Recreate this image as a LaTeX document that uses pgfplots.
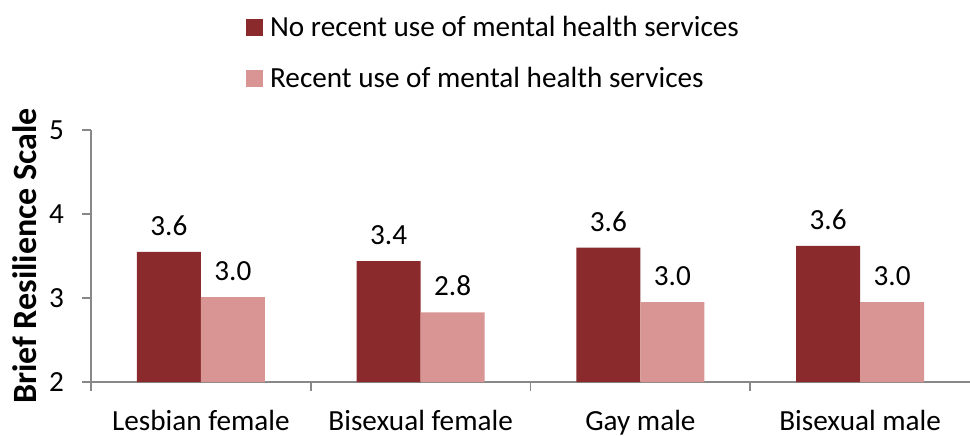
\documentclass[border=0pt]{standalone}
\usepackage{pgfplots}
\pgfplotsset{compat=1.18}
\usepackage{fontspec}
\setmainfont{Carlito}
\definecolor{darkred}{HTML}{8B2A2C}
\definecolor{lightred}{HTML}{D99594}
\definecolor{axgray}{HTML}{888888}
\begin{document}
\begin{tikzpicture}
\begin{axis}[
  scale only axis,
  width=439.5pt, height=126pt,
  ybar=0pt, bar width=32pt,
  xmin=-0.5, xmax=3.5, ymin=2, ymax=5,
  ytick={2,3,4,5},
  xtick={0,1,2,3},
  xticklabels={Lesbian female,Bisexual female,Gay male,Bisexual male},
  minor xtick={-0.5,0.5,1.5,2.5},
  tick align=outside,
  major tick length=4.5pt, minor tick length=4.5pt,
  major x tick style={draw=none},
  tick style={axgray, line width=0.8pt},
  axis x line*=bottom, axis y line*=left,
  axis line style={-, axgray, line width=0.8pt},
  /pgf/number format/assume math mode=true,
  ticklabel style={font=\fontsize{14.6}{16}\selectfont},
  yticklabel style={xshift=-5.5pt},
  xticklabel style={yshift=-6pt},
  ylabel={\textbf{Brief Resilience Scale}},
  ylabel style={at={(axis description cs:0,0.5)}, anchor=south, yshift=23.5pt, font=\fontsize{17}{19}\selectfont},
  nodes near coords,
  point meta=explicit symbolic,
  every node near coord/.append style={font=\fontsize{14.6}{16}\selectfont, black, yshift=4.5pt},
  legend style={draw=none, at={(axis description cs:0.176,1.47)}, anchor=north west,
    font=\fontsize{14.6}{16}\selectfont, row sep=10pt, inner sep=0pt},
  legend cell align=left,
  legend image code/.code={\fill[#1] (0pt,-4.25pt) rectangle (8.5pt,4.25pt);},
  legend style={nodes={inner xsep=3.5pt}},
]
\addplot[fill=darkred, draw=none] table[meta=l] {
x y l
0 3.55 3.6
1 3.44 3.4
2 3.60 3.6
3 3.62 3.6
};
\addplot[fill=lightred, draw=none] table[meta=l] {
x y l
0 3.01 3.0
1 2.83 2.8
2 2.95 3.0
3 2.95 3.0
};
\legend{No recent use of mental health services, Recent use of mental health services}
\coordinate (bl) at (rel axis cs:0,0);
\coordinate (tr) at (rel axis cs:1,1);
\end{axis}
\pgfresetboundingbox
\path[use as bounding box] ([shift={(-45.5pt,-26.5pt)}]bl) rectangle ([shift={(0pt,65pt)}]tr);
\end{tikzpicture}
\end{document}
